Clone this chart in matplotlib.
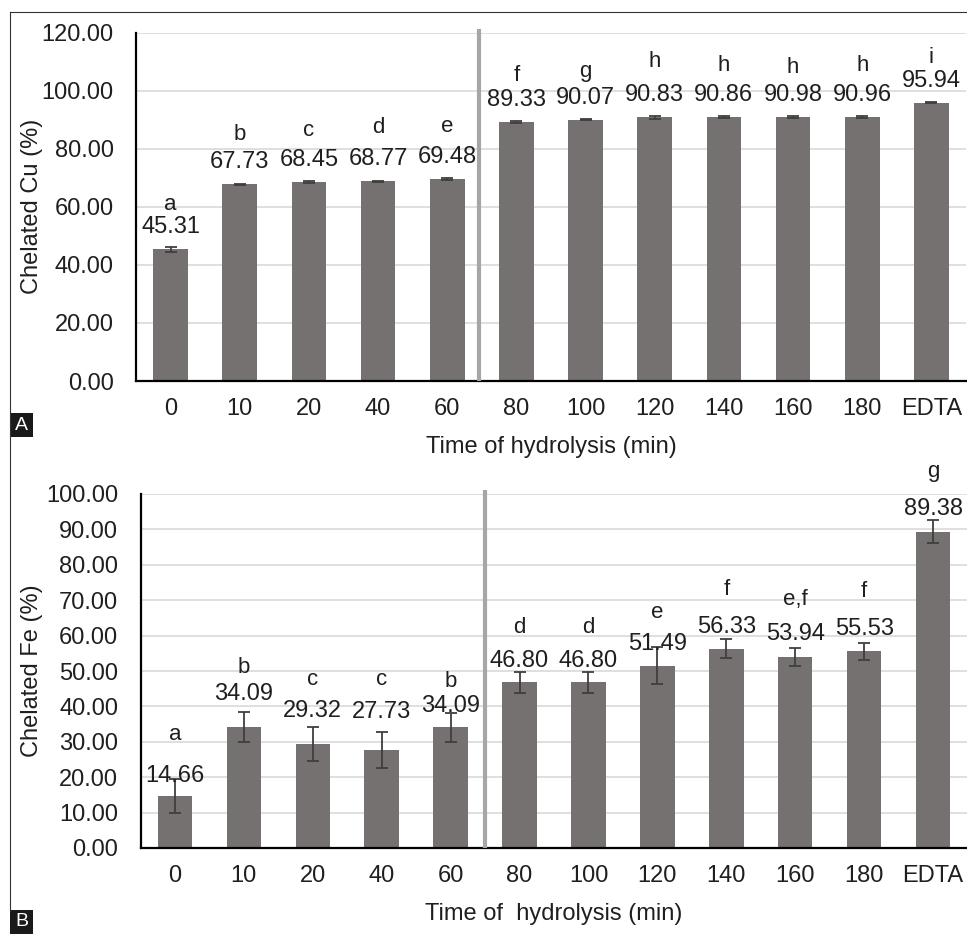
"""Chelating activity of hydrolysates (Cu and Fe) vs hydrolysis time, two panels."""

import numpy as np
import matplotlib.pyplot as plt
from matplotlib.lines import Line2D
from matplotlib.patches import Rectangle
from matplotlib.ticker import FormatStrFormatter

plt.rcParams.update({
    'font.family': ['Liberation Sans', 'DejaVu Sans'],
    'font.size': 17,
})

categories = ['0', '10', '20', '40', '60', '80', '100', '120', '140', '160', '180', 'EDTA']

cu_values = [45.31, 67.73, 68.45, 68.77, 69.48, 89.33, 90.07, 90.83, 90.86, 90.98, 90.96, 95.94]
cu_errors = [1.0, 0.3, 0.3, 0.3, 0.3, 0.3, 0.3, 0.6, 0.3, 0.3, 0.3, 0.3]
cu_letters = ['a', 'b', 'c', 'd', 'e', 'f', 'g', 'h', 'h', 'h', 'h', 'i']

fe_values = [14.66, 34.09, 29.32, 27.73, 34.09, 46.80, 46.80, 51.49, 56.33, 53.94, 55.53, 89.38]
fe_errors = [4.7, 4.2, 4.8, 5.0, 4.1, 2.9, 2.9, 5.3, 2.6, 2.6, 2.5, 3.3]
fe_letters = ['a', 'b', 'c', 'c', 'b', 'd', 'd', 'e', 'f', 'e,f', 'f', 'g']

# label placement (pixels above bar top), labels were hand-moved in the original
cu_value_off = [16] * 12
cu_letter_gap = [23, 28, 30, 32, 31, 25, 27, 34, 30, 28, 30, 24]
fe_value_off = [14, 27, 27, 32, 15, 15, 15, 16, 16, 17, 16, 17]
fe_letter_gap = [42, 27, 32, 33, 25, 34, 34, 32, 38, 35, 38, 38]

BAR = '#767171'
TXT = '#1f1f1f'
W, H = 967, 935


def draw_panel(ax, values, errors, letters, ymax, step, value_off, letter_gap, sep_x, ylabel, xlabel):
    x = np.arange(len(categories))
    ax.bar(x, values, width=0.5, color=BAR, zorder=2)
    ax.errorbar(x, values, yerr=errors, fmt='none', ecolor='#3f3f3f',
                elinewidth=1.3, capsize=4, capthick=1.3, zorder=3)
    for xi, v, lt, vo, lg in zip(x, values, letters, value_off, letter_gap):
        ax.annotate(f'{v:.2f}', (xi, v), xytext=(0, vo), textcoords='offset pixels',
                    ha='center', va='baseline', fontsize=17, color=TXT)
        ax.annotate(lt, (xi, v), xytext=(0, vo + lg), textcoords='offset pixels',
                    ha='center', va='baseline', fontsize=16, color=TXT)

    ax.set_xlim(-0.5, len(categories) - 0.5)
    ax.set_ylim(0, ymax)
    ax.set_yticks(np.arange(0, ymax + 0.1, step))
    ax.yaxis.set_major_formatter(FormatStrFormatter('%.2f'))
    ax.set_xticks(x)
    ax.set_xticklabels(categories)
    ax.grid(axis='y', color='#d9d9d9', linewidth=1.2)
    ax.set_axisbelow(True)
    for s in ['top', 'right']:
        ax.spines[s].set_visible(False)
    for s in ['left', 'bottom']:
        ax.spines[s].set_color('black')
        ax.spines[s].set_linewidth(1.6)
    ax.tick_params(axis='both', length=0, labelsize=17, labelcolor=TXT)
    ax.tick_params(axis='y', pad=16)
    ax.tick_params(axis='x', pad=12)

    # grey divider between the two time ranges
    ax.plot([sep_x, sep_x], [0, ymax * 1.01], color='#a6a6a6', lw=3,
            clip_on=False, zorder=4, solid_capstyle='butt')

    bb = ax.get_position()
    fig.text(32 / W, bb.y0 + bb.height / 2, ylabel, rotation=90,
             ha='center', va='center', fontsize=17, color=TXT)
    fig.text(bb.x0 + bb.width / 2, bb.y0 - 66 / H, xlabel,
             ha='center', va='center', fontsize=17, color=TXT)


fig = plt.figure(figsize=(W / 100, H / 100), dpi=100)

ax_a = fig.add_axes([136 / W, 1 - 381 / H, 830 / W, 348.3 / H])
draw_panel(ax_a, cu_values, cu_errors, cu_letters, 120, 20, cu_value_off, cu_letter_gap,
           4.46, 'Chelated Cu (%)', 'Time of hydrolysis (min)')

ax_b = fig.add_axes([140.5 / W, 1 - 848 / H, 827 / W, 354 / H])
draw_panel(ax_b, fe_values, fe_errors, fe_letters, 100, 10, fe_value_off, fe_letter_gap,
           4.5, 'Chelated Fe (%)', 'Time of  hydrolysis (min)')

# outer frame (top and left edges only)
fig.add_artist(Line2D([10 / W, 10 / W], [1 - 12 / H, 1 - 911 / H], color='#333333', lw=0.8))
fig.add_artist(Line2D([10 / W, 1.0], [1 - 12 / H, 1 - 12 / H], color='#333333', lw=0.8))

# panel tags
for tag, top in [('A', 413), ('B', 910)]:
    fig.add_artist(Rectangle((10 / W, 1 - (top + 24) / H), 23 / W, 24 / H,
                             facecolor='#1a1a1a', edgecolor='none'))
    fig.text(21.5 / W, 1 - (top + 12) / H, tag, color='white', fontsize=14,
             ha='center', va='center')

fig.savefig('out.png', dpi=100)
print("Saved: out.png")
